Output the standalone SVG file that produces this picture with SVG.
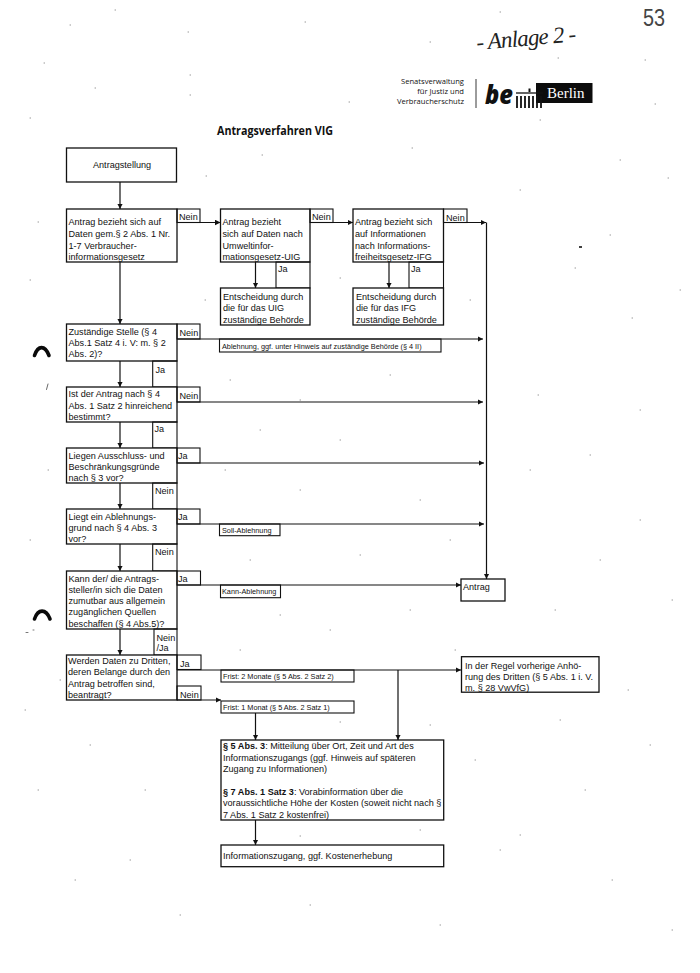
<svg xmlns="http://www.w3.org/2000/svg" width="700" height="973" viewBox="0 0 700 973">
<style>
text{font-family:"Liberation Sans",Arial,sans-serif;font-size:9.1px;fill:#111}
.s{font-size:7.3px}
.b{font-weight:bold}
.box{fill:#fff;stroke:#111;stroke-width:1.3}
.lbl{fill:none;stroke:#111;stroke-width:1.1}
.c{fill:none;stroke:#111;stroke-width:1.2}
.a{marker-end:url(#arr)}
.logo{font-family:"Open Sans",sans-serif;font-size:7.6px;text-anchor:end}
</style>
<defs>
<marker id="arr" markerUnits="userSpaceOnUse" markerWidth="6" markerHeight="6" refX="5.5" refY="3" orient="auto"><path d="M0 0.2L5.5 3L0 5.8z" fill="#111"/></marker>
</defs>
<rect width="700" height="973" fill="#fff"/>
<path id="scan-specks" fill="none" stroke="#8a8a8a" stroke-width="0.9" stroke-linecap="round" d="M115 10h.6M188 32h.6M305 22h.6M44 63h.6M95 88h.6M30 118h.6M190 95h.6M349 102h.6M262 155h.6M412 148h.6M540 120h.6M655 104h.6M610 235h.6M632 318h.6M520 190h.6M575 268h.6M668 178h.6M538 395h.6M590 455h.6M640 520h.6M555 610h.6M672 600h.6M628 690h.6M650 745h.6M585 790h.6M520 835h.6M612 880h.6M672 930h.6M440 925h.6M310 905h.6M180 915h.6M75 880h.6M38 790h.6M25 710h.6M90 745h.6M145 790h.6M130 860h.6M30 540h.6M48 470h.6M30 280h.6M38 222h.6M206 176h.6M300 400h.6M260 430h.6M340 440h.6M390 375h.6M420 500h.6M300 490h.6M360 555h.6M250 560h.6M410 610h.6M330 630h.6M240 650h.6M430 725h.6M340 722h.6M300 836h.6M420 830h.6M475 760h.6M500 850h.6M560 720h.6M600 560h.6M530 470h.6M640 410h.6M620 160h.6M680 290h.6M90 330h.6M60 680h.6M205 300h.6M340 278h.6M470 300h.6M230 380h.6M225 470h.6M450 540h.6M280 615h.6M455 650h.6M645 60h.6M500 12h.6M558 58h.6M430 42h.6M190 75h.6M70 25h.6"/>
<path id="scan-mark-dot" d="M579 247h3" stroke="#111" stroke-width="1.6" fill="none"/>
<g id="margin-marks" fill="none" stroke="#0a0a0a" stroke-linecap="round">
<path d="M34.500 355.500C38 345 45 345 49 355.500" stroke-width="3.600"/>
<path d="M34.500 619C38 608.500 46 608.500 50 619" stroke-width="3.600"/>
<path d="M46.500 389.500L48 384" stroke-width="0.800" stroke="#444"/>
<path d="M26 632.500h2M33 630h1" stroke-width="0.800" stroke="#555"/>
</g>
<g id="handwriting">
<text x="477" y="50" transform="rotate(-5 477 50)" style="font-family:'Liberation Serif',serif;font-style:italic;font-size:23px;fill:#222" textLength="100">- Anlage 2 -</text>
<text x="643" y="26" style="font-family:'Liberation Sans',sans-serif;font-size:24px;fill:#444" textLength="22" lengthAdjust="spacingAndGlyphs">53</text>
</g>
<g id="logo">
<text class="logo" x="464" y="84">Senatsverwaltung</text>
<text class="logo" x="464" y="94">für Justiz und</text>
<text class="logo" x="464" y="104">Verbraucherschutz</text>
<path d="M476 79V108" stroke="#222" stroke-width="0.900"/>
<text x="485" y="104" style="font-family:'Open Sans',sans-serif;font-weight:800;font-style:italic;font-size:27px;fill:#111" textLength="28" lengthAdjust="spacingAndGlyphs">be</text>
<rect x="536" y="83" width="56.500" height="20" fill="#0c0c0c"/>
<text x="547" y="98" style="font-family:'Liberation Serif',serif;font-size:15px;fill:#fff">Berlin</text>
<path d="M516 93H543" stroke="#111" stroke-width="1.300"/>
<path d="M529.500 88.500V92" stroke="#111" stroke-width="2"/>
<path d="M517 96V108M521 96V108M525 96V108M529 96V108M533 96V108M537 96V108M541 96V108" stroke="#111" stroke-width="1.800" fill="none"/>
</g>
<text id="title" class="b" x="217" y="135" style="font-family:'Open Sans',sans-serif;font-size:11.500px;font-weight:700" textLength="116" lengthAdjust="spacingAndGlyphs">Antragsverfahren VIG</text>

<g id="connectors">
<path class="c a" d="M120 182V209"/>
<path class="c a" d="M120 262V324"/>
<path class="c a" d="M177 222.500H220.500"/>
<path class="c a" d="M310 222.500H353"/>
<path class="c a" d="M443.500 222.500H486"/>
<path class="c a" d="M486.500 222.500V579"/>
<path class="c a" d="M255.500 262V288"/>
<path class="c a" d="M389 262V288"/>
<path class="c a" d="M177 339H483"/>
<path class="c a" d="M177 402H483"/>
<path class="c a" d="M177 463H484"/>
<path class="c a" d="M177 524H484"/>
<path class="c a" d="M177 585H461"/>
<path class="c a" d="M120 361V387"/>
<path class="c a" d="M120 422V448"/>
<path class="c a" d="M120 483V509"/>
<path class="c a" d="M120 544V571"/>
<path class="c a" d="M120 629V655"/>
<path class="c a" d="M177 670H461"/>
<path class="c a" d="M177 700H221"/>
<path class="c a" d="M398 670V740"/>
<path class="c a" d="M255.500 713V740"/>
<path class="c a" d="M255.500 820V845"/>
</g>

<g id="n-antragstellung"><rect class="box" x="66.500" y="148" width="110" height="34"/><text x="93" y="168">Antragstellung</text></g>
<g id="n-vig"><rect class="box" x="66.500" y="209" width="110.500" height="53"/><text x="68.500" y="225">Antrag bezieht sich auf</text><text x="68.500" y="237">Daten gem.§ 2 Abs. 1 Nr.</text><text x="68.500" y="248.500">1-7 Verbraucher-</text><text x="68.500" y="259.500">informationsgesetz</text></g>
<g id="l-nein1"><rect class="lbl" x="177" y="209" width="23" height="13.500"/><text x="179" y="220">Nein</text></g>
<g id="n-uig"><rect class="box" x="220.500" y="209" width="89.500" height="53"/><text x="222.500" y="225">Antrag bezieht</text><text x="222.500" y="237">sich auf Daten nach</text><text x="222.500" y="248.500">Umweltinfor-</text><text x="222.500" y="259.500">mationsgesetz-UIG</text></g>
<g id="l-nein2"><rect class="lbl" x="310" y="209" width="23" height="13.500"/><text x="312" y="220">Nein</text></g>
<g id="n-ifg"><rect class="box" x="353" y="209" width="90.500" height="53"/><text x="355" y="225">Antrag bezieht sich</text><text x="355" y="237">auf Informationen</text><text x="355" y="248.500">nach Informations-</text><text x="355" y="259.500">freiheitsgesetz-IFG</text></g>
<g id="l-nein3"><rect class="lbl" x="443.500" y="209" width="23.500" height="13.500"/><text x="446" y="220.500">Nein</text></g>
<g id="l-ja-uig"><rect class="lbl" x="276" y="262" width="34" height="26"/><text x="278" y="272">Ja</text></g>
<g id="l-ja-ifg"><rect class="lbl" x="409" y="262" width="34.500" height="26"/><text x="411" y="272">Ja</text></g>
<g id="n-uig-e"><rect class="box" x="220.500" y="288" width="89.500" height="37"/><text x="223" y="299.500">Entscheidung durch</text><text x="223" y="311">die für das UIG</text><text x="223" y="322.500">zuständige Behörde</text></g>
<g id="n-ifg-e"><rect class="box" x="353" y="288" width="90.500" height="37"/><text x="356" y="299.500">Entscheidung durch</text><text x="356" y="311">die für das IFG</text><text x="356" y="322.500">zuständige Behörde</text></g>

<g id="n-zustaendig"><rect class="box" x="66.500" y="324" width="110.500" height="37"/><text x="68.500" y="334.500">Zuständige Stelle (§ 4</text><text x="68.500" y="346">Abs.1 Satz 4 i. V: m. § 2</text><text x="68.500" y="357">Abs. 2)?</text></g>
<g id="l-nein4"><rect class="lbl" x="177" y="324" width="23" height="15"/><text x="179.500" y="335.500">Nein</text></g>
<g id="n-ablehnung"><rect class="lbl" x="219.500" y="339" width="221.500" height="13"/><text class="s" x="222" y="348.500">Ablehnung, ggf. unter Hinweis auf zuständige Behörde (§ 4 II)</text></g>
<g id="l-ja4"><rect class="lbl" x="152.700" y="361" width="24.300" height="26"/><text x="155.500" y="372.500">Ja</text></g>
<g id="n-ist"><rect class="box" x="66.500" y="387" width="110.500" height="35"/><text x="68.500" y="397">Ist der Antrag nach § 4</text><text x="68.500" y="408.500">Abs. 1 Satz 2 hinreichend</text><text x="68.500" y="419.500">bestimmt?</text></g>
<g id="l-nein5"><rect class="lbl" x="177" y="387" width="23" height="15"/><text x="179.500" y="398.500">Nein</text></g>
<g id="l-ja5"><rect class="lbl" x="152.700" y="422" width="24.300" height="26"/><text x="154.500" y="432">Ja</text></g>
<g id="n-liegen"><rect class="box" x="66.500" y="448" width="110.500" height="35"/><text x="68.500" y="458.500">Liegen Ausschluss- und</text><text x="68.500" y="470">Beschränkungsgründe</text><text x="68.500" y="481">nach § 3 vor?</text></g>
<g id="l-ja6"><rect class="lbl" x="177" y="448" width="23" height="15"/><text x="178" y="459">Ja</text></g>
<g id="l-nein6"><rect class="lbl" x="152.700" y="483" width="24.300" height="26"/><text x="155" y="494">Nein</text></g>
<g id="n-liegt"><rect class="box" x="66.500" y="509" width="110.500" height="35"/><text x="68.500" y="519.500">Liegt ein Ablehnungs-</text><text x="68.500" y="530.500">grund nach § 4 Abs. 3</text><text x="68.500" y="541.500">vor?</text></g>
<g id="l-ja7"><rect class="lbl" x="177" y="509" width="23" height="15"/><text x="178" y="520">Ja</text></g>
<g id="n-soll"><rect class="lbl" x="219.500" y="524" width="60.500" height="11.700"/><text class="s" x="222" y="532.500">Soll-Ablehnung</text></g>
<g id="l-nein7"><rect class="lbl" x="152.700" y="544" width="24.300" height="27"/><text x="155" y="555">Nein</text></g>
<g id="n-kann"><rect class="box" x="66.500" y="571" width="110.500" height="58"/><text x="68.500" y="581.500">Kann der/ die Antrags-</text><text x="68.500" y="592.500">steller/in sich die Daten</text><text x="68.500" y="604">zumutbar aus allgemein</text><text x="68.500" y="615">zugänglichen Quellen</text><text x="68.500" y="626.500">beschaffen (§ 4 Abs.5)?</text></g>
<g id="l-ja8"><rect class="lbl" x="177" y="571" width="23.500" height="14"/><text x="178" y="581.500">Ja</text></g>
<g id="n-kannab"><rect class="lbl" x="220.500" y="585" width="60" height="12.700"/><text class="s" x="222" y="594">Kann-Ablehnung</text></g>
<g id="n-antrag"><rect class="box" x="461" y="579" width="44" height="22"/><text x="463" y="590">Antrag</text></g>
<g id="l-neinja"><rect class="lbl" x="154" y="629" width="23" height="26"/><text x="156.500" y="641">Nein</text><text x="156.500" y="651">/Ja</text></g>
<g id="n-werden"><rect class="box" x="66.500" y="655" width="110.500" height="45"/><text x="68" y="664">Werden Daten zu Dritten,</text><text x="68" y="675">deren Belange durch den</text><text x="68" y="687">Antrag betroffen sind,</text><text x="68" y="698">beantragt?</text></g>
<g id="l-ja9"><rect class="lbl" x="177" y="655" width="24" height="14.500"/><text x="180" y="667">Ja</text></g>
<g id="n-frist2"><rect class="lbl" x="221" y="670" width="133" height="12"/><text class="s" x="223" y="678.500">Frist: 2 Monate (§ 5 Abs. 2 Satz 2)</text></g>
<g id="l-nein9"><rect class="lbl" x="177" y="686" width="24" height="14"/><text x="180" y="698">Nein</text></g>
<g id="n-frist1"><rect class="lbl" x="221" y="701" width="133" height="12"/><text class="s" x="223" y="709.500">Frist: 1 Monat (§ 5 Abs. 2 Satz 1)</text></g>
<g id="n-regel"><rect class="box" x="461.500" y="656.700" width="137.500" height="35.500"/><text x="465" y="669">In der Regel vorherige Anhö-</text><text x="465" y="680">rung des Dritten (§ 5 Abs. 1 i. V.</text><text x="465" y="690.500">m. § 28 VwVfG)</text></g>
<g id="n-mitteilung"><rect class="box" x="221" y="740" width="222.700" height="80"/><text x="223" y="749"><tspan class="b">§ 5 Abs. 3</tspan>: Mitteilung über Ort, Zeit und Art des</text><text x="223" y="760.500">Informationszugangs (ggf. Hinweis auf späteren</text><text x="223" y="772">Zugang zu Informationen)</text><text x="223" y="794.500"><tspan class="b">§ 7 Abs. 1 Satz 3</tspan>: Vorabinformation über die</text><text x="223" y="806">voraussichtliche Höhe der Kosten (soweit nicht nach §</text><text x="223" y="817.500">7 Abs. 1 Satz 2 kostenfrei)</text></g>
<g id="n-zugang"><rect class="box" x="221" y="845" width="222.700" height="21.700"/><text x="223" y="859">Informationszugang, ggf. Kostenerhebung</text></g>
</svg>
